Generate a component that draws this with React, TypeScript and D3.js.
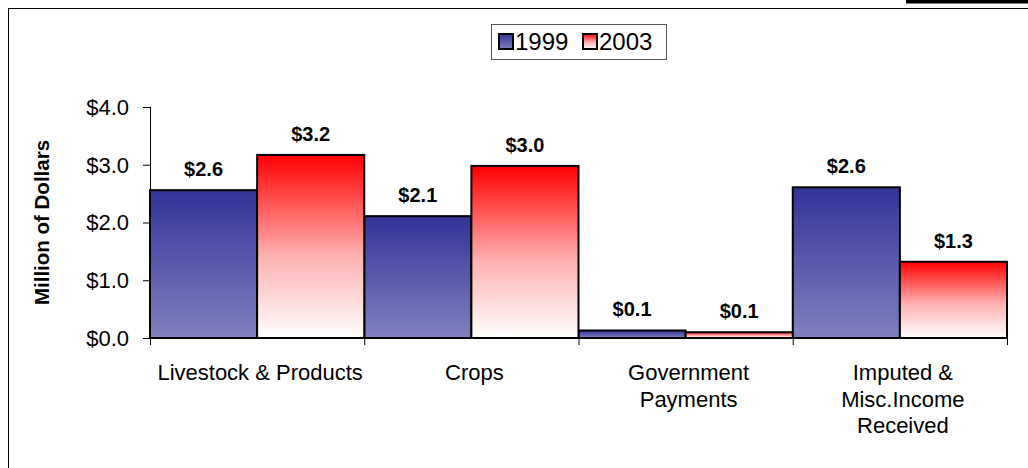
import React from "react";
import * as d3 from "d3";

const categories: string[][] = [
  ["Livestock & Products"],
  ["Crops"],
  ["Government", "Payments"],
  ["Imputed &", "Misc.Income", "Received"],
];
const seriesNames = ["1999", "2003"];
const values1999 = [2.56, 2.11, 0.13, 2.61];
const values2003 = [3.17, 2.98, 0.1, 1.32];
const yTicks = [0, 1, 2, 3, 4];

const FONT = "'Liberation Sans', Arial, Helvetica, sans-serif";

export default function App() {
  const W = 1028;
  const H = 468;
  const left = 150;
  const right = 1007;
  const top = 107;
  const bottom = 338;

  const x = d3
    .scaleBand<number>()
    .domain(categories.map((_, i) => i))
    .range([left, right])
    .paddingInner(0)
    .paddingOuter(0);
  const xs = d3.scaleBand<string>().domain(seriesNames).range([0, x.bandwidth()]).padding(0);
  const y = d3.scaleLinear().domain([0, 4]).range([bottom, top]);

  const series = [
    { name: "1999", vals: values1999, grad: "url(#gBlue)" },
    { name: "2003", vals: values2003, grad: "url(#gRed)" },
  ];

  const boundaries = [...categories.map((_, i) => x(i)!), right];

  return (
    <svg
      width={W}
      height={H}
      style={{ position: "absolute", left: 0, top: 0, display: "block" }}
      fontFamily={FONT}
    >
      <defs>
        <linearGradient id="gBlue" x1="0" y1="0" x2="0" y2="1">
          <stop offset="0" stopColor="#333399" />
          <stop offset="1" stopColor="#8080c0" />
        </linearGradient>
        <linearGradient id="gRed" x1="0" y1="0" x2="0" y2="1">
          <stop offset="0" stopColor="#ff0000" />
          <stop offset="0.55" stopColor="#ffb0b0" />
          <stop offset="1" stopColor="#ffffff" />
        </linearGradient>
      </defs>
      <rect x={0} y={0} width={W} height={H} fill="#ffffff" />
      {/* frame */}
      <rect x={906} y={0} width={122} height={3.5} fill="#000" />
      <line x1={8} y1={8.5} x2={W} y2={8.5} stroke="#000" strokeWidth={1} />
      <line x1={8.5} y1={8} x2={8.5} y2={H} stroke="#000" strokeWidth={1} />

      {/* bars */}
      {series.map((s) =>
        s.vals.map((v, i) => {
          const bx = x(i)! + xs(s.name)!;
          const by = y(v);
          return (
            <g key={s.name + i}>
              <rect
                x={bx}
                y={by}
                width={xs.bandwidth()}
                height={bottom - by}
                fill={s.grad}
                stroke="#000"
                strokeWidth={2}
              />
              <text
                x={bx + xs.bandwidth() / 2}
                y={by - 14}
                textAnchor="middle"
                fontWeight="bold"
                fontSize={20}
                fill="#000"
              >
                {"$" + v.toFixed(1)}
              </text>
            </g>
          );
        })
      )}

      {/* y axis */}
      <line x1={left + 0.5} y1={top} x2={left + 0.5} y2={bottom + 7} stroke="#000" />
      {yTicks.map((t) => (
        <g key={t}>
          <line x1={left - 7} y1={y(t) + 0.5} x2={left} y2={y(t) + 0.5} stroke="#000" />
          <text x={129} y={y(t)} dy="0.36em" textAnchor="end" fontSize={22} fill="#000">
            {"$" + t.toFixed(1)}
          </text>
        </g>
      ))}
      {/* x axis */}
      <line x1={left} y1={bottom + 0.5} x2={right} y2={bottom + 0.5} stroke="#000" />
      {boundaries.map((b, i) => (
        <line key={i} x1={b + 0.5} y1={bottom} x2={b + 0.5} y2={bottom + 7} stroke="#000" />
      ))}
      {categories.map((lines, i) => (
        <text key={i} textAnchor="middle" fontSize={22} fill="#000">
          {lines.map((l, j) => (
            <tspan key={j} x={x(i)! + x.bandwidth() / 2 + 3} y={380 + j * 26.5}>
              {l}
            </tspan>
          ))}
        </text>
      ))}

      {/* y title */}
      <text
        transform={`translate(49, ${(top + bottom) / 2}) rotate(-90)`}
        textAnchor="middle"
        fontWeight="bold"
        fontSize={20.5}
        fill="#000"
      >
        Million of Dollars
      </text>

      {/* legend */}
      <rect x={491.5} y={24.5} width={175} height={35} fill="#fff" stroke="#555" strokeWidth={1} />
      {series.map((s, i) => {
        const lx = 499 + i * 84;
        return (
          <g key={s.name}>
            <rect x={lx} y={34} width={14} height={15} fill={s.grad} stroke="#000" strokeWidth={2} />
            <text x={lx + 16} y={50} fontSize={24} fill="#000">
              {s.name}
            </text>
          </g>
        );
      })}
    </svg>
  );
}
